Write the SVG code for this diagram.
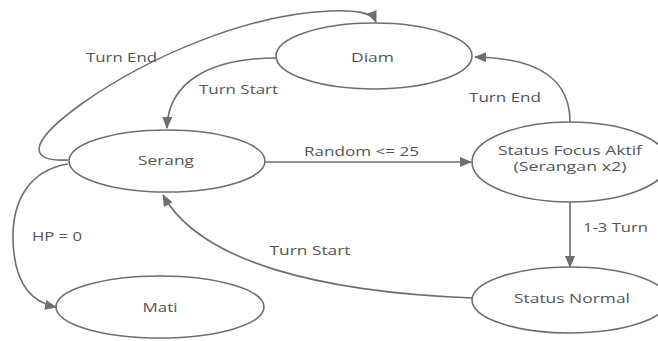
<svg xmlns="http://www.w3.org/2000/svg" width="658" height="341" viewBox="0 0 658 341">
<defs>
<marker id="arr" viewBox="0 0 12 10" refX="11" refY="5" markerWidth="12" markerHeight="10" markerUnits="userSpaceOnUse" orient="auto">
<path d="M0,0 L12,5 L0,10 Z" fill="#6e6e6e"/>
</marker>
<style>
.n ellipse{fill:#fff;stroke:#6e6e6e;stroke-width:1.6}
text{font-family:"Open Sans","DejaVu Sans",sans-serif;font-size:13px;fill:#555;text-anchor:middle}
.e path{fill:none;stroke:#6e6e6e;stroke-width:1.6;marker-end:url(#arr)}
.sm{font-size:12px}
</style>
</defs>
<rect width="658" height="341" fill="#fff"/>
<g class="e" id="edges">
<path d="M68,160 C30,162 25,145 80,105 C150,55 250,14 330,11 C355,10 372,12 376,22"/>
<path d="M276,58 C210,58 168,82 167,128"/>
<path d="M265,162 L471,162"/>
<path d="M570,122 C570,80 540,58 475,57"/>
<path d="M570,202 L570,267"/>
<path d="M472,298 C320,292 200,262 163,195"/>
<path d="M68,164 C30,170 12,200 13,240 C14,282 30,302 56,307"/>
</g>
<g id="labels">
<text x="121.5" y="61.5" textLength="71" lengthAdjust="spacingAndGlyphs">Turn End</text>
<text x="238.5" y="93.5" textLength="79" lengthAdjust="spacingAndGlyphs">Turn Start</text>
<text x="361.5" y="155.5" textLength="115" lengthAdjust="spacingAndGlyphs">Random &lt;= 25</text>
<text x="505" y="101.5" textLength="72" lengthAdjust="spacingAndGlyphs">Turn End</text>
<text x="615.5" y="231.5" textLength="65" lengthAdjust="spacingAndGlyphs">1-3 Turn</text>
<text x="310" y="254.5" textLength="81" lengthAdjust="spacingAndGlyphs">Turn Start</text>
<text x="57" y="240.5" textLength="50" lengthAdjust="spacingAndGlyphs">HP = 0</text>
</g>
<g class="n" id="diam"><ellipse cx="374" cy="56" rx="98" ry="33"/><text x="372.5" y="61.5" textLength="43" lengthAdjust="spacingAndGlyphs">Diam</text></g>
<g class="n" id="serang"><ellipse cx="167" cy="161" rx="98" ry="31"/><text x="166" y="164.5" textLength="56" lengthAdjust="spacingAndGlyphs">Serang</text></g>
<g class="n" id="focus"><ellipse cx="570" cy="162" rx="98" ry="40"/><text class="sm" x="570" y="154.5" textLength="144" lengthAdjust="spacingAndGlyphs">Status Focus Aktif</text><text class="sm" x="570" y="171" textLength="113" lengthAdjust="spacingAndGlyphs">(Serangan x2)</text></g>
<g class="n" id="normal"><ellipse cx="570" cy="300" rx="98" ry="33"/><text x="572" y="302.5" textLength="116" lengthAdjust="spacingAndGlyphs">Status Normal</text></g>
<g class="n" id="mati"><ellipse cx="160" cy="307" rx="104" ry="31"/><text x="160" y="311.5" textLength="35" lengthAdjust="spacingAndGlyphs">Mati</text></g>
</svg>
